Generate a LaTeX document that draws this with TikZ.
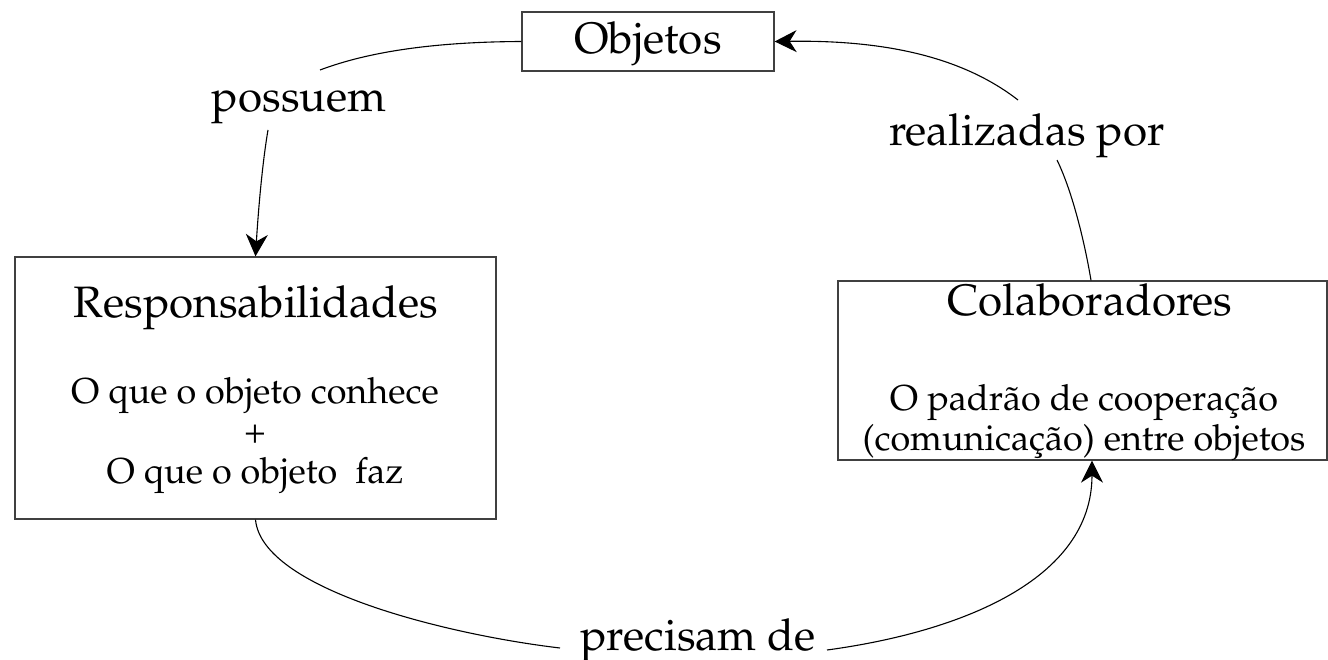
\documentclass[tikz,border=0pt]{standalone}
\usepackage[T1]{fontenc}
\usepackage{mathpazo}
\usetikzlibrary{arrows.meta}
\tikzset{
  box/.style={draw=black!75, line width=1.3pt, rectangle, inner sep=0pt},
  bigtxt/.style={font=\fontsize{44}{50}\selectfont, anchor=base, inner sep=0pt},
  smalltxt/.style={font=\fontsize{36}{40}\selectfont, anchor=base, inner sep=0pt},
  conn/.style={line width=1.1pt},
  tip/.style={-{Stealth[length=22pt,width=22pt,inset=7pt]}}
}
\begin{document}
\begin{tikzpicture}[x=1pt,y=-1pt]
\useasboundingbox (0,0) rectangle (1328,660);
% boxes
\node[box, minimum width=252pt, minimum height=59pt] (obj) at (648,41.5) {};
\node[box, minimum width=481pt, minimum height=262pt] (resp) at (255.5,388) {};
\node[box, minimum width=489pt, minimum height=179pt] (colab) at (1082.5,370.5) {};
% texts
\node[bigtxt] (objt) at (648,54) {Objetos};
\node[bigtxt] (respt) at (256,318) {Responsabilidades};
\node[smalltxt] (respa) at (255,403) {O que o objeto conhece};
\node[smalltxt] (respb) at (255,443) {+};
\node[smalltxt] (respc) at (255,483) {O que o objeto \ faz};
\node[bigtxt] (colabt) at (1090,316) {Colaboradores};
\node[smalltxt] (colaba) at (1084,410) {O padr\~ao de coopera\c{c}\~ao};
\node[smalltxt] (colabb) at (1084,450) {(comunica\c{c}\~ao) entre objetos};
% labels
\node[bigtxt] (poss) at (299,112) {possuem};
\node[bigtxt] (real) at (1027,146) {realizadas por};
\node[bigtxt] (prec) at (698,650) {precisam de};
% free ends of connectors
\coordinate (p1) at (320,70);
\coordinate (p2) at (268,130);
\coordinate (r1) at (1018,100);
\coordinate (r2) at (1057,160);
\coordinate (q1) at (560,648);
\coordinate (q2) at (827,650);
% connectors
\draw[conn] (obj.west) .. controls (420,42) and (360,55) .. (p1);
\draw[conn,tip] (p2) .. controls (262,165) and (258,215) .. (resp.north);
\draw[conn,tip] (r1) .. controls (960,55) and (880,40) .. (obj.east);
\draw[conn] (r2) .. controls (1074,195) and (1086,250) .. ([xshift=8.5pt]colab.north);
\draw[conn] (resp.south) .. controls (262,590) and (450,635) .. (q1);
\draw[conn,tip] (q2) .. controls (960,632) and (1092,580) .. ([xshift=9.5pt]colab.south);
\end{tikzpicture}
\end{document}
